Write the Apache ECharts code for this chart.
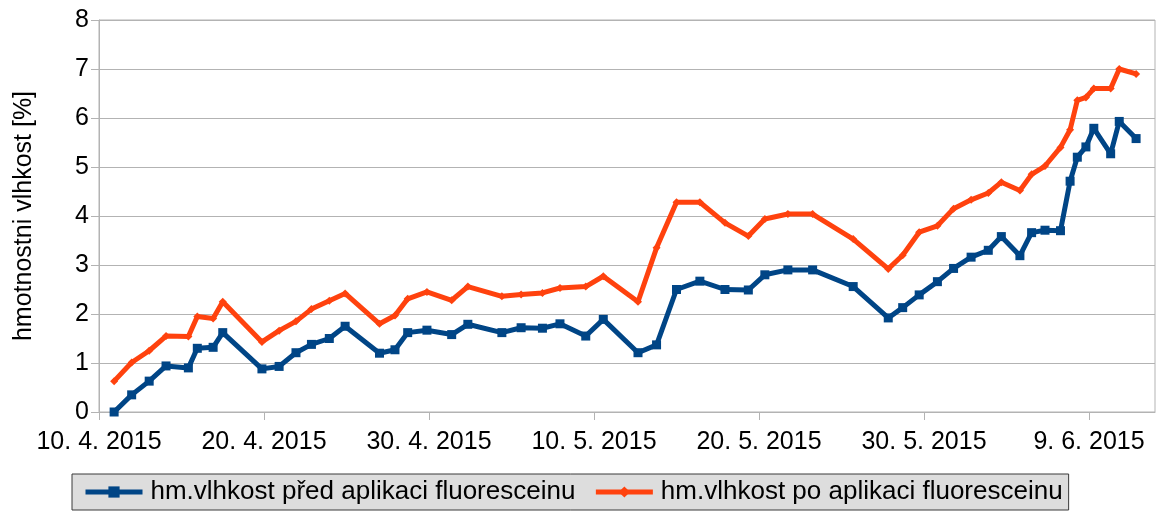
<!DOCTYPE html>
<html>
<head>
<meta charset="utf-8">
<script src="https://cdn.jsdelivr.net/npm/echarts@6/dist/echarts.min.js"></script>
<style>
  html, body { margin: 0; padding: 0; background: #ffffff; }
  #chart { width: 1159px; height: 515px; }
</style>
</head>
<body>
<div id="chart"></div>
<script>
// Measurement times (local date and time of each moisture reading)
const measuredAt = [
  '2015-04-10 22:00', '2015-04-11 23:30', '2015-04-13 01:00', '2015-04-14 01:30',
  '2015-04-15 10:00', '2015-04-15 23:00', '2015-04-16 22:00', '2015-04-17 12:00',
  '2015-04-19 21:00', '2015-04-20 22:00', '2015-04-21 22:30', '2015-04-22 21:00',
  '2015-04-23 23:00', '2015-04-24 22:00', '2015-04-27 00:00', '2015-04-27 22:30',
  '2015-04-28 17:00', '2015-04-29 21:00', '2015-05-01 09:00', '2015-05-02 08:30',
  '2015-05-04 10:00', '2015-05-05 14:00', '2015-05-06 21:00', '2015-05-07 22:30',
  '2015-05-09 12:00', '2015-05-10 13:30', '2015-05-12 16:00', '2015-05-13 19:00',
  '2015-05-15 00:00', '2015-05-16 10:00', '2015-05-17 22:30', '2015-05-19 08:30',
  '2015-05-20 08:30', '2015-05-21 18:00', '2015-05-23 06:00', '2015-05-25 17:00',
  '2015-05-27 20:00', '2015-05-28 17:00', '2015-05-29 17:00', '2015-05-30 19:30',
  '2015-05-31 19:00', '2015-06-01 20:30', '2015-06-02 21:30', '2015-06-03 16:30',
  '2015-06-04 19:30', '2015-06-05 12:30', '2015-06-06 08:00', '2015-06-07 06:30',
  '2015-06-07 20:30', '2015-06-08 07:00', '2015-06-08 19:30', '2015-06-09 07:00',
  '2015-06-10 07:30', '2015-06-10 20:00', '2015-06-11 20:30'
];

// Mass moisture [%] before applying fluorescein
const beforeValues = [
  0.00, 0.35, 0.63, 0.94, 0.90, 1.30, 1.32, 1.62,
  0.88, 0.93, 1.21, 1.38, 1.50, 1.75, 1.20, 1.27,
  1.62, 1.67, 1.58, 1.79, 1.62, 1.72, 1.71, 1.80,
  1.55, 1.89, 1.21, 1.37, 2.50, 2.67, 2.50, 2.49,
  2.80, 2.90, 2.90, 2.56, 1.92, 2.13, 2.39, 2.66,
  2.93, 3.16, 3.30, 3.58, 3.19, 3.66, 3.71, 3.70,
  4.71, 5.20, 5.41, 5.79, 5.27, 5.93, 5.58
];

// Mass moisture [%] after applying fluorescein
const afterValues = [
  0.63, 1.01, 1.25, 1.55, 1.54, 1.95, 1.91, 2.25,
  1.43, 1.66, 1.85, 2.10, 2.27, 2.42, 1.80, 1.97,
  2.31, 2.45, 2.28, 2.56, 2.36, 2.40, 2.43, 2.53,
  2.56, 2.77, 2.25, 3.35, 4.28, 4.28, 3.86, 3.59,
  3.94, 4.04, 4.04, 3.53, 2.92, 3.20, 3.67, 3.80,
  4.15, 4.33, 4.47, 4.69, 4.52, 4.85, 5.02, 5.40,
  5.76, 6.36, 6.42, 6.60, 6.60, 7.00, 6.90
];

const seriesNames = [
  'hm.vlhkost před aplikaci fluoresceinu',
  'hm.vlhkost po aplikaci fluoresceinu'
];
const yAxisTitle = 'hmotnostni vlhkost [%]';

// Date axis range and tick step (days)
const axisStart = '2015-04-10';
const axisEnd = '2015-06-13';
const tickStepDays = 10;

const DAY_MS = 86400000;
function parseStamp(s) {
  const [d, t = '00:00'] = s.split(' ');
  const [Y, M, D] = d.split('-').map(Number);
  const [h, m] = t.split(':').map(Number);
  return Date.UTC(Y, M - 1, D, h, m);
}
const startMs = parseStamp(axisStart);
const toDays = s => (parseStamp(s) - startMs) / DAY_MS;
const formatDay = v => {
  const d = new Date(startMs + Math.round(v) * DAY_MS);
  return d.getUTCDate() + '. ' + (d.getUTCMonth() + 1) + '. ' + d.getUTCFullYear();
};

const FONT = "'Liberation Sans', Arial, sans-serif";
const GRID_COLOR = '#b3b3b3';

const chart = echarts.init(document.getElementById('chart'), null, { renderer: 'canvas' });

chart.setOption({
  animation: false,
  backgroundColor: '#ffffff',
  textStyle: { fontFamily: FONT },
  grid: {
    left: 99, right: 4, top: 20, bottom: 103,
    show: true, borderColor: GRID_COLOR, borderWidth: 1,
    outerBoundsMode: 'none'
  },
  xAxis: {
    type: 'value',
    min: 0,
    max: toDays(axisEnd),
    interval: tickStepDays,
    axisLine: { show: true, lineStyle: { color: GRID_COLOR, width: 1 } },
    axisTick: { show: true, length: 8, lineStyle: { color: GRID_COLOR } },
    splitLine: { show: false },
    axisLabel: {
      fontSize: 25, color: '#000000', fontFamily: FONT, margin: 18,
      showMaxLabel: false,
      formatter: formatDay
    }
  },
  yAxis: {
    type: 'value',
    min: 0, max: 8, interval: 1,
    name: yAxisTitle,
    nameLocation: 'middle',
    nameGap: 62,
    nameTextStyle: { fontSize: 25, color: '#000000', fontFamily: FONT },
    axisLine: { show: true, lineStyle: { color: GRID_COLOR, width: 1 } },
    axisTick: { show: true, length: 8, lineStyle: { color: GRID_COLOR } },
    splitLine: { show: true, lineStyle: { color: GRID_COLOR, width: 1 } },
    axisLabel: { fontSize: 25, color: '#000000', fontFamily: FONT, margin: 10 }
  },
  legend: {
    left: 72, top: 474,
    orient: 'horizontal',
    backgroundColor: '#dddddd',
    borderColor: '#3a3a3a', borderWidth: 1, borderRadius: 0,
    padding: [5, 6, 5, 11],
    itemWidth: 57, itemHeight: 14, itemGap: 18,
    lineStyle: { width: 5 },
    textStyle: { fontSize: 26, color: '#000000', fontFamily: FONT, padding: [0, 0, 0, 3] },
    data: seriesNames
  },
  series: [
    {
      name: seriesNames[0],
      type: 'line',
      data: measuredAt.map((t, i) => [toDays(t), beforeValues[i]]),
      symbol: 'rect', symbolSize: 9, showSymbol: true,
      lineStyle: { color: '#004586', width: 5 },
      itemStyle: { color: '#004586' }
    },
    {
      name: seriesNames[1],
      type: 'line',
      data: measuredAt.map((t, i) => [toDays(t), afterValues[i]]),
      symbol: 'diamond', symbolSize: 8, showSymbol: true,
      lineStyle: { color: '#ff420e', width: 5 },
      itemStyle: { color: '#ff420e' }
    }
  ]
});
</script>
</body>
</html>
